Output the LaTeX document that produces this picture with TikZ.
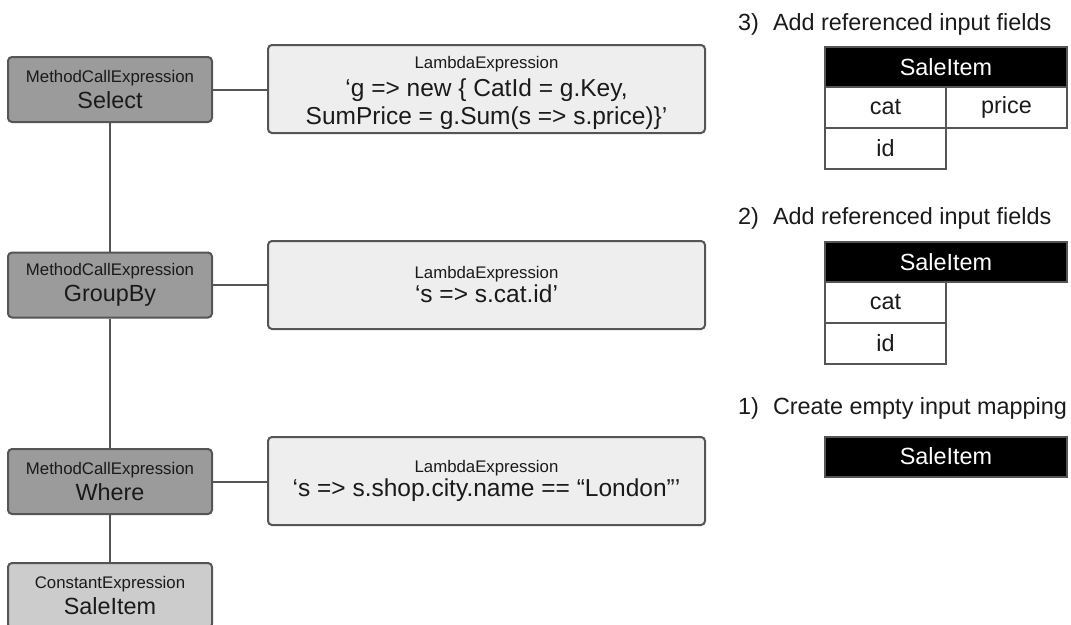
\documentclass[tikz,border=0pt]{standalone}
\usepackage{fontspec}
\setmainfont{Liberation Sans}
\definecolor{edge}{HTML}{555555}
\definecolor{methodfill}{HTML}{9B9B9B}
\definecolor{constfill}{HTML}{CCCCCC}
\definecolor{lambdafill}{HTML}{EEEEEE}
\definecolor{ink}{HTML}{1A1A1A}
\newcommand\smalltxt{\fontsize{16.8}{26}\selectfont}
\newcommand\bigtxt{\fontsize{23.4}{26}\selectfont}
\newcommand\codetxt{\fontsize{24.5}{26}\selectfont}

\begin{document}
\begin{tikzpicture}[x=1pt,y=-1pt,
  exprbox/.style={draw=edge, line width=2pt, rounded corners=4pt, align=center,
                  inner sep=0pt, text=ink, font=\smalltxt},
  method/.style={exprbox, fill=methodfill, minimum width=204pt, minimum height=65pt},
  constant/.style={exprbox, fill=constfill, minimum width=204pt, minimum height=65pt},
  lambda/.style={exprbox, fill=lambdafill, minimum width=437pt, minimum height=88pt},
  link/.style={draw=edge, line width=2pt},
  steptext/.style={anchor=west, inner sep=0pt, font=\bigtxt, text=ink},
  header/.style={fill=black, draw=edge, line width=2pt, text=white, font=\bigtxt,
                 inner sep=0pt, minimum height=40pt, minimum width=242pt},
  field/.style={fill=white, draw=edge, line width=2pt, text=ink, font=\bigtxt,
                inner sep=0pt, minimum height=41pt, minimum width=121pt},
]
\useasboundingbox (0,0) rectangle (1071,624);

% expression tree
\node[method]   (select)  at (110,89.5) {MethodCallExpression\\{\bigtxt Select}};
\node[method]   (groupby) at (110,285)  {MethodCallExpression\\{\bigtxt GroupBy}};
\node[method]   (where)   at (110,481.5){MethodCallExpression\\{\bigtxt Where}};
\node[constant] (source)  at (110,595.5){ConstantExpression\\{\bigtxt SaleItem}};

\node[lambda] (lselect)  at (486.5,89)
  {\rule{0pt}{20pt}LambdaExpression\\[2pt]{\codetxt ‘g => new \{ CatId = g.Key,}\\[2pt]{\codetxt SumPrice = g.Sum(s => s.price)\}’}};
\node[lambda] (lgroupby) at (486.5,285)
  {LambdaExpression\\[-2pt]{\codetxt ‘s => s.cat.id’}};
\node[lambda] (lwhere)   at (486.5,481)
  {LambdaExpression\\[-2pt]{\codetxt ‘s => s.shop.city.name == “London”’}};

\draw[link] (select) -- (groupby);
\draw[link] (groupby) -- (where);
\draw[link] (where) -- (source);
\draw[link] (select.east) -- (select.east -| lselect.west);
\draw[link] (groupby.east) -- (groupby.east -| lgroupby.west);
\draw[link] (where.east) -- (where.east -| lwhere.west);

% input mapping steps
\node[steptext] (s3) at (738,24)  {3)\hspace{14pt}Add referenced input fields};
\node[header] (h3) at (946,67) {SaleItem};
\node[field]  (c3) at (885.5,107.5) {cat};
\node[field]  (p3) at (1006.5,107.5) {price};
\node[field]  (i3) at (885.5,148.5) {id};

\node[steptext] (s2) at (738,218) {2)\hspace{14pt}Add referenced input fields};
\node[header] (h2) at (946,262) {SaleItem};
\node[field]  (c2) at (885.5,302.5) {cat};
\node[field]  (i2) at (885.5,343.5) {id};

\node[steptext] (s1) at (738,408) {1)\hspace{14pt}Create empty input mapping};
\node[header] (h1) at (946,456.5) {SaleItem};
\end{tikzpicture}
\end{document}
